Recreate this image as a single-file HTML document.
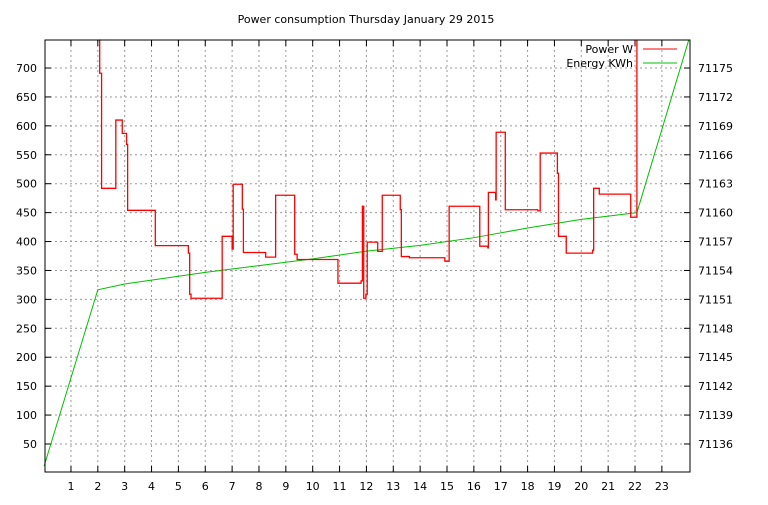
<!DOCTYPE html>
<html><head><meta charset="utf-8"><style>
body{margin:0;background:#fff}
svg text{font-family:"DejaVu Sans","Liberation Sans",sans-serif;font-size:11px;fill:#000}
</style></head><body>
<svg id="c" width="768" height="500" xmlns="http://www.w3.org/2000/svg">
<rect width="768" height="500" fill="#fff"/>
<text x="366" y="23" text-anchor="middle">Power consumption Thursday January 29 2015</text>
<g id="grid"></g><g id="axes"></g>
<polyline id="energy" fill="none" stroke="#00c000" stroke-width="1"/>
<polyline id="power" fill="none" stroke="#ff0000" stroke-width="1.3"/>
<rect x="45" y="40" width="645" height="432" fill="none" stroke="#000"/>
<g>
<text x="633" y="53" text-anchor="end">Power W</text>
<line x1="643" y1="49" x2="677" y2="49" stroke="#f00"/>
<text x="633" y="67" text-anchor="end">Energy KWh</text>
<line x1="643" y1="63" x2="677" y2="63" stroke="#00c000"/>
</g>
</svg>
<script>
const xTicks=[1,2,3,4,5,6,7,8,9,10,11,12,13,14,15,16,17,18,19,20,21,22,23];
const yTicks=[50,100,150,200,250,300,350,400,450,500,550,600,650,700];
const y2Ticks=[71136,71139,71142,71145,71148,71151,71154,71157,71160,71163,71166,71169,71172,71175];
const powerHours=[2.05,2.07,2.14,2.67,2.91,3.07,3.11,4.14,5.37,5.42,5.47,6.63,7.0,7.04,7.38,7.42,8.25,8.62,9.33,9.42,10.94,11.80,11.85,11.90,11.98,12.03,12.42,12.59,13.26,13.30,13.60,14.92,15.08,16.22,16.52,16.54,16.81,16.83,17.17,18.38,18.47,19.11,19.15,19.44,20.42,20.46,20.67,21.84,22.07];
const powerValues=[760,691,492,610,587,568,454,393,380,309,302,409,387,499,456,381,373,480,378,369,328,332,461,302,309,399,383,480,455,374,372,366,461,392,389,485,472,589,455,453,553,518,409,380,385,492,482,442,760];
const energyHours=[0,2,3,4,6,8,10,12,14,16,18,20,22.07,24];
const energyValues=[71133.7,71152.0,71152.6,71153.0,71153.8,71154.5,71155.2,71156.0,71156.6,71157.4,71158.4,71159.3,71160.0,71177.9];
const L=45,R=690,T=40,B=472.9;
const X=h=>44.1+h*26.86;
const Y=v=>Math.max(T,B-v*0.5784);
const Y2=v=>Math.max(T,B-(v-71133)*9.64);
const NS='http://www.w3.org/2000/svg';
const grid=document.getElementById('grid'),axes=document.getElementById('axes');
function mk(tag,a,p){const e=document.createElementNS(NS,tag);for(const k in a)e.setAttribute(k,a[k]);p.appendChild(e);return e;}
xTicks.forEach(h=>{const x=X(h);
 const g=mk('line',{x1:x,y1:T,x2:x,y2:472,stroke:'#999','stroke-dasharray':'2,3'},grid);
 
 
 mk('line',{x1:x,y1:472,x2:x,y2:466,stroke:'#000'},axes);
 mk('line',{x1:x,y1:40,x2:x,y2:46,stroke:'#000'},axes);
 const t=mk('text',{x:x,y:490,'text-anchor':'middle'},axes);t.textContent=h;
 
 
});
yTicks.forEach(v=>{const y=Y(v);
 const g=mk('line',{x1:L,y1:y,x2:R,y2:y,stroke:'#999','stroke-dasharray':'2,3'},grid);
 
 
 mk('line',{x1:L,y1:y,x2:L+6,y2:y,stroke:'#000'},axes);
 const t=mk('text',{x:37,y:y+4,'text-anchor':'end'},axes);t.textContent=v;
 
 
});
y2Ticks.forEach(v=>{const y=Y2(v);
 mk('line',{x1:R-6,y1:y,x2:R,y2:y,stroke:'#000'},axes);
 const t=mk('text',{x:698,y:y+4},axes);t.textContent=v;
 
 
});
let pts=[];
powerHours.forEach((h,i)=>{const x=X(h);if(i>0)pts.push(x+','+Y(powerValues[i-1]));pts.push(x+','+Y(powerValues[i]));});
document.getElementById('power').setAttribute('points',pts.join(' '));
document.getElementById('energy').setAttribute('points',energyHours.map((h,i)=>X(h)+','+Y2(energyValues[i])).join(' '));
</script>
</body></html>
